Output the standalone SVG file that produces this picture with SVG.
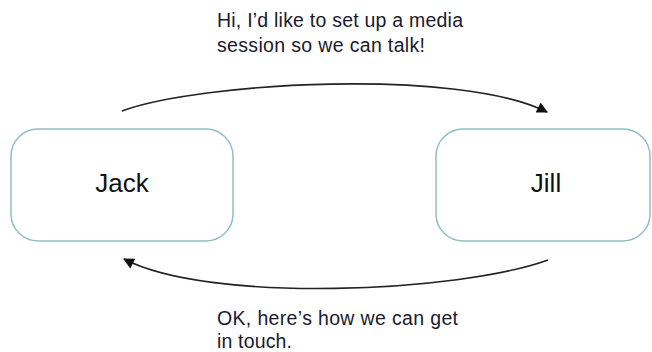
<svg xmlns="http://www.w3.org/2000/svg" width="652" height="352" viewBox="0 0 652 352">
  <style>
    .node { fill: #ffffff; stroke: #8fbfc4; stroke-width: 1.5; }
    .label { font-family: "Liberation Sans", Arial, sans-serif; font-size: 26px; fill: #111111; text-anchor: middle; }
    .msg { font-family: "Liberation Sans", Arial, sans-serif; font-size: 19.5px; fill: #1a1a2e; }
    .conn { fill: none; stroke: #222222; stroke-width: 1.6; }
  </style>
  <defs>
    <marker id="arrow" viewBox="0 0 10 10" refX="9" refY="5" markerWidth="12" markerHeight="11" markerUnits="userSpaceOnUse" orient="auto">
      <path d="M0,0 L10,5 L0,10 z" fill="#111111"/>
    </marker>
  </defs>
  <rect width="652" height="352" fill="#ffffff"/>
  <g id="jack">
    <rect class="node" x="11" y="129" width="222" height="112" rx="27" ry="27"/>
    <text class="label" x="122" y="192">Jack</text>
  </g>
  <g id="jill">
    <rect class="node" x="436" y="129" width="214" height="112" rx="27" ry="27"/>
    <text class="label" x="546" y="192">Jill</text>
  </g>
  <g id="connectors">
    <path class="conn" d="M122,111 C200,82 460,68 547,112" marker-end="url(#arrow)"/>
    <path class="conn" d="M548,260 C460,292 210,304 124,259" marker-end="url(#arrow)"/>
  </g>
  <g id="labels">
    <text class="msg" x="217" y="27" textLength="246" lengthAdjust="spacing">Hi, I’d like to set up a media</text>
    <text class="msg" x="217" y="52" textLength="208" lengthAdjust="spacing">session so we can talk!</text>
    <text class="msg" x="217" y="325" textLength="241" lengthAdjust="spacing">OK, here’s how we can get</text>
    <text class="msg" x="217" y="348" textLength="75" lengthAdjust="spacing">in touch.</text>
  </g>
</svg>
